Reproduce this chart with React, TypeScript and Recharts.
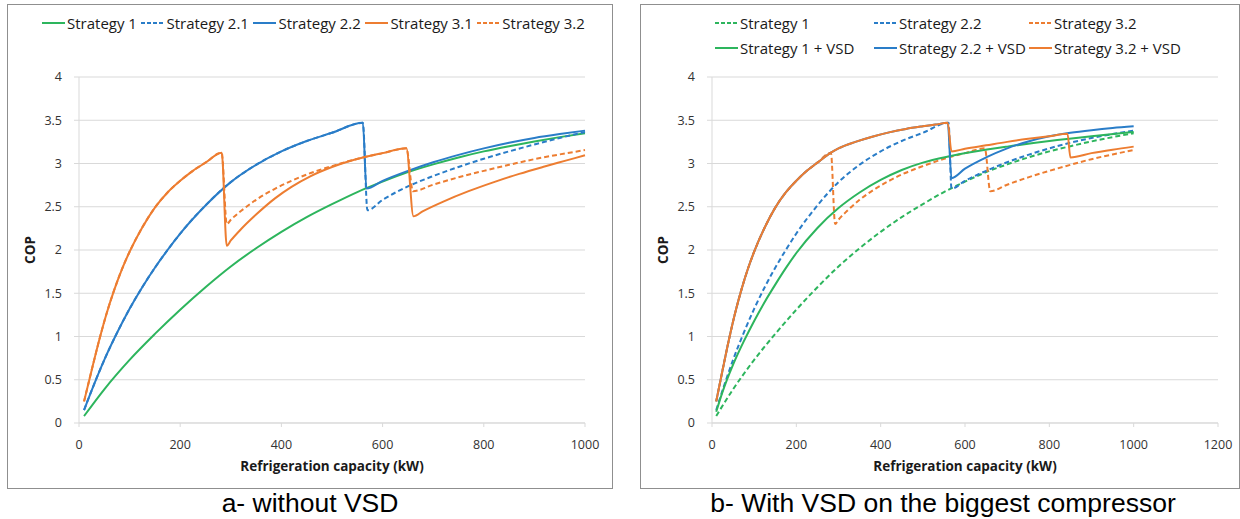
import * as React from 'react'
import { LineChart, Line, XAxis, YAxis, CartesianGrid } from 'recharts'

// readings taken off the figure: refrigeration capacity (kW) and COP

// Strategy 1 (same curve in both panels)
const s1Cap = [10, 50, 100, 150, 200, 250, 300, 350, 400, 450, 500, 550, 600, 650, 700, 750, 800, 850, 900, 950, 1000]
const s1Cop = [0.08, 0.39, 0.73, 1.03, 1.31, 1.57, 1.81, 2.02, 2.21, 2.38, 2.53, 2.67, 2.79, 2.9, 2.99, 3.07, 3.14, 3.2, 3.255, 3.305, 3.35]

// Strategy 2.x: common rise up to the first switch
const s2RiseCap = [10, 30, 50, 75, 100, 125, 150, 175, 200, 250, 300, 350, 400, 450, 500, 561]
const s2RiseCop = [0.15, 0.45, 0.73, 1.04, 1.32, 1.57, 1.795, 2.0, 2.19, 2.515, 2.785, 2.985, 3.14, 3.26, 3.355, 3.47]
const s21TailCap = [570, 600, 650, 700, 750, 800, 850, 900, 950, 1000]
const s21TailCop = [2.46, 2.58, 2.735, 2.855, 2.96, 3.055, 3.14, 3.22, 3.295, 3.365]
const s22TailCap = [568, 600, 650, 700, 750, 800, 850, 900, 950, 1000]
const s22TailCop = [2.71, 2.8, 2.915, 3.015, 3.1, 3.175, 3.24, 3.295, 3.34, 3.38]

// Strategy 3.x: common rise up to the first switch
const s3RiseCap = [10, 25, 40, 55, 70, 85, 100, 125, 150, 175, 200, 225, 250, 282]
const s3RiseCop = [0.25, 0.61, 0.96, 1.275, 1.545, 1.78, 1.98, 2.26, 2.49, 2.665, 2.8, 2.915, 3.01, 3.125]
const s31MidCap = [292, 300, 320, 350, 388, 420, 458, 500, 561, 600, 647]
const s31MidCop = [2.05, 2.11, 2.24, 2.41, 2.6, 2.73, 2.855, 2.96, 3.07, 3.12, 3.175]
const s31TailCap = [661, 680, 720, 770, 820, 870, 920, 960, 1000]
const s31TailCop = [2.39, 2.45, 2.56, 2.68, 2.785, 2.88, 2.965, 3.03, 3.095]
const s32MidCap = [292, 300, 320, 350, 388, 420, 458, 500, 561, 600, 647]
const s32MidCop = [2.3, 2.35, 2.45, 2.58, 2.71, 2.8, 2.89, 2.97, 3.07, 3.12, 3.175]
const s32TailCap = [660, 700, 750, 800, 850, 900, 950, 1000]
const s32TailCop = [2.68, 2.755, 2.84, 2.915, 2.985, 3.05, 3.105, 3.155]

// with VSD on the biggest compressor
const vsd1Cap = [10, 25, 50, 75, 100, 125, 150, 175, 200, 250, 300, 350, 400, 450, 500, 560, 620, 700, 800, 900, 1000]
const vsd1Cop = [0.13, 0.36, 0.675, 0.94, 1.18, 1.4, 1.6, 1.79, 1.965, 2.255, 2.485, 2.665, 2.81, 2.925, 3.01, 3.08, 3.135, 3.195, 3.26, 3.315, 3.365]
const vsdRiseCap = [300, 340, 380, 420, 460, 500, 530, 559]
const vsdRiseCop = [3.175, 3.25, 3.31, 3.36, 3.4, 3.43, 3.45, 3.47]
const vsd22TailCap = [568, 600, 650, 700, 750, 800, 850, 900, 950, 1000]
const vsd22TailCop = [2.83, 2.94, 3.07, 3.175, 3.255, 3.315, 3.355, 3.385, 3.41, 3.43]
const vsd32TailCap = [568, 600, 650, 700, 750, 800, 843, 850, 900, 950, 1000]
const vsd32TailCop = [3.14, 3.17, 3.21, 3.25, 3.285, 3.315, 3.345, 3.07, 3.12, 3.16, 3.195]

const yTicks = [0, 0.5, 1, 1.5, 2, 2.5, 3, 3.5, 4]
const xTicksA = [0, 200, 400, 600, 800, 1000]
const xTicksB = [0, 200, 400, 600, 800, 1000, 1200]

const GREEN = '#2db55d'
const BLUE = '#2a7dc8'
const ORANGE = '#ed7d31'
const FONT = '"Open Sans", sans-serif'

type Series = { name: string; color: string; dashed: boolean; cap: number[]; cop: number[] }

const seriesA: Series[] = [
  { name: 'Strategy 1', color: GREEN, dashed: false, cap: s1Cap, cop: s1Cop },
  { name: 'Strategy 2.1', color: BLUE, dashed: true, cap: [...s2RiseCap, ...s21TailCap], cop: [...s2RiseCop, ...s21TailCop] },
  { name: 'Strategy 2.2', color: BLUE, dashed: false, cap: [...s2RiseCap, ...s22TailCap], cop: [...s2RiseCop, ...s22TailCop] },
  { name: 'Strategy 3.1', color: ORANGE, dashed: false, cap: [...s3RiseCap, ...s31MidCap, ...s31TailCap], cop: [...s3RiseCop, ...s31MidCop, ...s31TailCop] },
  { name: 'Strategy 3.2', color: ORANGE, dashed: true, cap: [...s3RiseCap, ...s32MidCap, ...s32TailCap], cop: [...s3RiseCop, ...s32MidCop, ...s32TailCop] }
]

// 2.2 + VSD runs under 3.2 + VSD until the switch, so only its drop shows
const seriesB: Series[] = [
  { name: 'Strategy 1', color: GREEN, dashed: true, cap: s1Cap, cop: s1Cop },
  { name: 'Strategy 2.2', color: BLUE, dashed: true, cap: [...s2RiseCap, ...s22TailCap], cop: [...s2RiseCop, ...s22TailCop] },
  { name: 'Strategy 3.2', color: ORANGE, dashed: true, cap: [...s3RiseCap, ...s32MidCap, ...s32TailCap], cop: [...s3RiseCop, ...s32MidCop, ...s32TailCop] },
  { name: 'Strategy 1 + VSD', color: GREEN, dashed: false, cap: vsd1Cap, cop: vsd1Cop },
  { name: 'Strategy 2.2 + VSD', color: BLUE, dashed: false, cap: [...s3RiseCap, ...vsdRiseCap, ...vsd22TailCap], cop: [...s3RiseCop, ...vsdRiseCop, ...vsd22TailCop] },
  { name: 'Strategy 3.2 + VSD', color: ORANGE, dashed: false, cap: [...s3RiseCap, ...vsdRiseCap, ...vsd32TailCap], cop: [...s3RiseCop, ...vsdRiseCop, ...vsd32TailCop] }
]

const toPoints = (cap: number[], cop: number[]) => cap.map((x, i) => ({ x, y: cop[i] }))

function CopLabel(props: any) {
  const vb = props.viewBox || { x: 39, y: 77, width: 40, height: 346 }
  const cx = vb.x - 9.5
  const cy = vb.y + vb.height / 2
  return (
    <text
      x={cx}
      y={cy}
      transform={`rotate(-90 ${cx} ${cy})`}
      textAnchor="middle"
      dominantBaseline="central"
      fill="#1a1a1a"
      style={{ fontFamily: FONT, fontSize: 13.5, fontWeight: 700 }}
    >
      COP
    </text>
  )
}

function LegendItem({ s }: { s: Series }) {
  return (
    <div style={{ display: 'flex', alignItems: 'center', whiteSpace: 'nowrap' }}>
      <svg width={23} height={4} style={{ marginRight: 2 }}>
        <line x1={0} y1={2} x2={23} y2={2} stroke={s.color} strokeWidth={2} strokeDasharray={s.dashed ? '4 2' : undefined} />
      </svg>
      <span>{s.name}</span>
    </div>
  )
}

function CopChart({ series, xMax, xTicks, width, left, right }: { series: Series[]; xMax: number; xTicks: number[]; width: number; left: number; right: number }) {
  const tickStyle = { fill: '#333', fontSize: 12.5, fontFamily: FONT }
  return (
    <LineChart width={width} height={488} margin={{ top: 77, right, bottom: 35, left }}>
      <CartesianGrid vertical={false} stroke="#d9d9d9" />
      <XAxis
        type="number"
        dataKey="x"
        domain={[0, xMax]}
        ticks={xTicks}
        height={30}
        tickSize={4}
        tickMargin={13}
        tick={tickStyle}
        stroke="#d9d9d9"
        label={{ value: 'Refrigeration capacity (kW)', position: 'bottom', offset: 8, fill: '#1a1a1a', fontSize: 13.5, fontWeight: 700, fontFamily: FONT }}
      />
      <YAxis
        type="number"
        domain={[0, 4]}
        ticks={yTicks}
        width={40}
        tickSize={5}
        tickMargin={12}
        tick={tickStyle}
        stroke="#d9d9d9"
        label={<CopLabel />}
      />
      {series.map((s) => (
        <Line
          key={s.name}
          data={toPoints(s.cap, s.cop)}
          dataKey="y"
          name={s.name}
          type="monotone"
          stroke={s.color}
          strokeWidth={2}
          strokeDasharray={s.dashed ? '5 3' : undefined}
          dot={false}
          activeDot={false}
          isAnimationActive={false}
        />
      ))}
    </LineChart>
  )
}

export default function App() {
  const panel: React.CSSProperties = { position: 'absolute', top: 4, height: 485, boxSizing: 'border-box', border: '1px solid #8f8f8f' }
  const caption: React.CSSProperties = { position: 'absolute', top: 490, fontFamily: '"Liberation Sans", Arial, sans-serif', fontSize: 26.5, lineHeight: 1, textAlign: 'center', color: '#000' }
  return (
    <div style={{ position: 'absolute', left: 0, top: 0, width: 1240, height: 519, background: '#fff', overflow: 'hidden', fontFamily: FONT, fontSize: 15, color: '#1a1a1a' }}>
      <div style={{ ...panel, left: 7, width: 606 }} />
      <div style={{ ...panel, left: 640, width: 600 }} />

      <div style={{ position: 'absolute', left: 0, top: 0 }}>
        <CopChart series={seriesA} xMax={1000} xTicks={xTicksA} width={612} left={39} right={27} />
      </div>
      <div style={{ position: 'absolute', left: 640, top: 0 }}>
        <CopChart series={seriesB} xMax={1200} xTicks={xTicksB} width={600} left={32} right={22} />
      </div>

      <div style={{ position: 'absolute', left: 42, top: 12, height: 21, display: 'flex', alignItems: 'center', gap: 4.5 }}>
        {seriesA.map((s) => <LegendItem key={s.name} s={s} />)}
      </div>
      <div style={{ position: 'absolute', left: 715, top: 10, display: 'grid', gridTemplateColumns: '159px 155px 170px', gridAutoRows: '25.6px', alignItems: 'center' }}>
        {seriesB.map((s) => <LegendItem key={s.name} s={s} />)}
      </div>

      <div style={{ ...caption, left: 7, width: 606 }}>a- without VSD</div>
      <div style={{ ...caption, left: 646, width: 594 }}>b- With VSD on the biggest compressor</div>
    </div>
  )
}
